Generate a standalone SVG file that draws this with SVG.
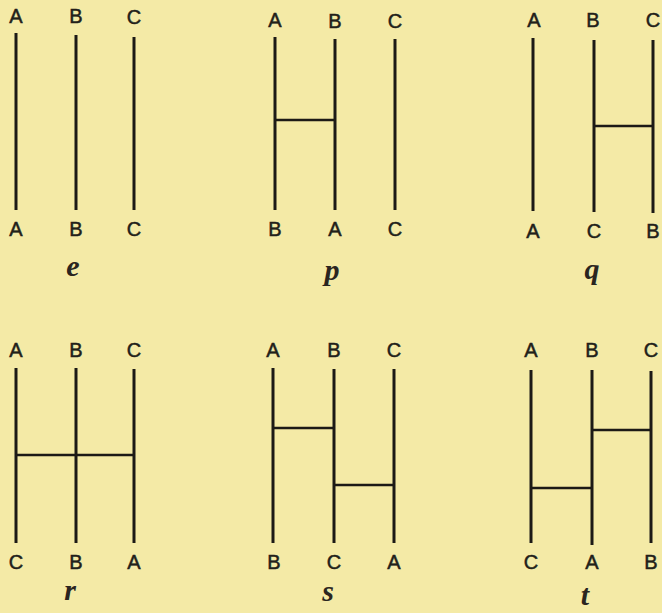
<svg xmlns="http://www.w3.org/2000/svg" width="662" height="613" viewBox="0 0 662 613">
<style>
.bg{fill:#f4eaa6}
.ln{stroke:#1c1a16;stroke-width:3;stroke-linecap:butt;fill:none}
.rg{stroke:#1c1a16;stroke-width:2.6;fill:none}
.lb{font-family:"Liberation Sans",Arial,sans-serif;font-size:20px;fill:#221f1a;stroke:#221f1a;stroke-width:0.5;text-anchor:middle}
.cap{font-family:"Liberation Serif","Times New Roman",serif;font-style:italic;font-weight:bold;font-size:30px;fill:#2a2520;text-anchor:middle}
</style>
<rect class="bg" x="0" y="0" width="662" height="613"/>

<g id="panel-e">
  <line class="ln" x1="16" y1="33" x2="16" y2="210"/>
  <line class="ln" x1="76" y1="35" x2="76" y2="210"/>
  <line class="ln" x1="134" y1="37" x2="134" y2="210"/>
  <text class="lb" x="16" y="23">A</text><text class="lb" x="76" y="23">B</text><text class="lb" x="134" y="24">C</text>
  <text class="lb" x="16" y="236">A</text><text class="lb" x="76" y="236">B</text><text class="lb" x="134" y="236">C</text>
  <text class="cap" x="73" y="276">e</text>
</g>

<g id="panel-p">
  <line class="ln" x1="275" y1="37" x2="275" y2="210"/>
  <line class="ln" x1="335" y1="39" x2="335" y2="210"/>
  <line class="ln" x1="395" y1="39" x2="395" y2="210"/>
  <text class="lb" x="275" y="27">A</text><text class="lb" x="335" y="28">B</text><text class="lb" x="395" y="28">C</text>
  <text class="lb" x="275" y="236">B</text><text class="lb" x="335" y="236">A</text><text class="lb" x="395" y="236">C</text>
  <text class="cap" x="332" y="280">p</text>
</g>

<g id="panel-q">
  <line class="ln" x1="533" y1="38" x2="533" y2="211"/>
  <line class="ln" x1="594" y1="40" x2="594" y2="212"/>
  <line class="ln" x1="653" y1="40" x2="653" y2="213"/>
  <text class="lb" x="534" y="27">A</text><text class="lb" x="593" y="27">B</text><text class="lb" x="653" y="27">C</text>
  <text class="lb" x="533" y="238">A</text><text class="lb" x="594" y="238">C</text><text class="lb" x="653" y="238">B</text>
  <text class="cap" x="592" y="279">q</text>
</g>

<g id="panel-r">
  <line class="ln" x1="16" y1="368" x2="16" y2="543"/>
  <line class="ln" x1="76" y1="368" x2="76" y2="543"/>
  <line class="ln" x1="134" y1="369" x2="134" y2="543"/>
  <text class="lb" x="16" y="357">A</text><text class="lb" x="76" y="357">B</text><text class="lb" x="134" y="357">C</text>
  <text class="lb" x="16" y="569">C</text><text class="lb" x="76" y="569">B</text><text class="lb" x="134" y="569">A</text>
  <text class="cap" x="70" y="600">r</text>
</g>

<g id="panel-s">
  <line class="ln" x1="273" y1="368" x2="273" y2="543"/>
  <line class="ln" x1="334" y1="369" x2="334" y2="543"/>
  <line class="ln" x1="394" y1="369" x2="394" y2="543"/>
  <text class="lb" x="273" y="357">A</text><text class="lb" x="334" y="357">B</text><text class="lb" x="394" y="357">C</text>
  <text class="lb" x="274" y="569">B</text><text class="lb" x="334" y="569">C</text><text class="lb" x="394" y="569">A</text>
  <text class="cap" x="328" y="601">s</text>
</g>

<g id="panel-t">
  <line class="ln" x1="531" y1="370" x2="531" y2="543"/>
  <line class="ln" x1="592" y1="370" x2="592" y2="545"/>
  <line class="ln" x1="651" y1="371" x2="651" y2="543"/>
  <text class="lb" x="531" y="357">A</text><text class="lb" x="592" y="357">B</text><text class="lb" x="651" y="357">C</text>
  <text class="lb" x="531" y="569">C</text><text class="lb" x="592" y="569">A</text><text class="lb" x="651" y="569">B</text>
  <text class="cap" x="585" y="605">t</text>
</g>

<g id="connectors">
  <line class="rg" x1="275" y1="120" x2="335" y2="120"/>
  <line class="rg" x1="594" y1="126" x2="653" y2="126"/>
  <line class="rg" x1="16" y1="455" x2="134" y2="455"/>
  <line class="rg" x1="273" y1="428" x2="334" y2="428"/>
  <line class="rg" x1="334" y1="485" x2="394" y2="485"/>
  <line class="rg" x1="592" y1="430" x2="651" y2="430"/>
  <line class="rg" x1="531" y1="488" x2="592" y2="488"/>
</g>
</svg>
